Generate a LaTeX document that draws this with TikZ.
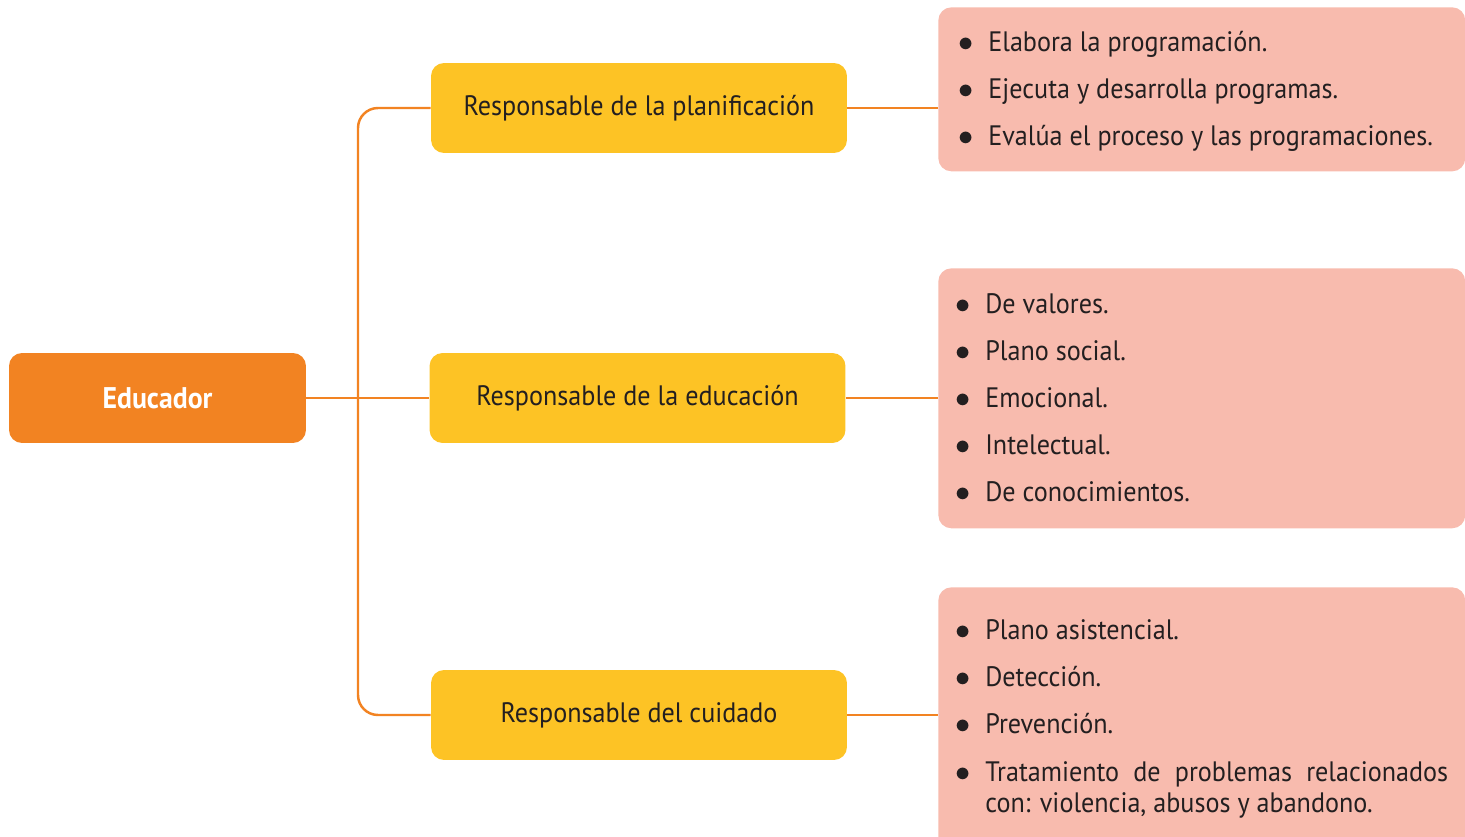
\documentclass[tikz,border=0pt]{standalone}
\usepackage{fontspec}
\setmainfont{PT Sans}[FakeStretch=0.93]
\definecolor{naranja}{HTML}{F28322}
\definecolor{amarillo}{HTML}{FDC325}
\definecolor{rosa}{HTML}{F8BBAE}
\definecolor{tinta}{HTML}{231F20}
\tikzset{
	caja/.style={inner sep=0pt, rounded corners=0.26cm, font=\fontsize{16}{19}\selectfont},
	raiz/.style={caja, fill=naranja, text=white, minimum width=5.94cm, minimum height=1.8cm, font=\bfseries\fontsize{17}{19}\selectfont},
	rama/.style={caja, fill=amarillo, text=tinta, minimum width=8.32cm, minimum height=1.8cm},
	hoja/.style={caja, fill=rosa, anchor=north west, minimum width=10.54cm},
	item/.style={anchor=base west, inner sep=0pt, text=tinta, font=\fontsize{16}{18.2}\selectfont},
	linea/.style={draw=naranja, line width=1.4pt}
}
\newcommand{\vineta}{\llap{$\bullet$\hspace{0.3cm}}}
\begin{document}
\begin{tikzpicture}[x=0.02cm,y=-0.02cm]
	\useasboundingbox (0,0) rectangle (1465,837);
	\node[raiz] (edu) at (157.5,398) {Educador};
	\node[rama] (plan) at (639,108) {Responsable de la planificación};
	\node[rama] (educ) at (637.5,398) {Responsable de la educación};
	\node[rama] (cuid) at (639,715) {Responsable del cuidado};
	\node[hoja, minimum height=3.28cm] (h1) at (938,7) {};
	\node[hoja, minimum height=5.2cm] (h2) at (938,268) {};
	\node[hoja, minimum height=5.6cm] (h3) at (938,587) {};
	\coordinate (tronco) at (358,398);
	\draw[linea, rounded corners=0.4cm] (plan.west) -| (tronco) |- (cuid.west);
	\draw[linea] (edu.east) -- (educ.west);
	\draw[linea] (plan.east) -- (plan.east -| h1.west);
	\draw[linea] (educ.east) -- (educ.east -| h2.west);
	\draw[linea] (cuid.east) -- (cuid.east -| h3.west);
	\foreach \y/\t [count=\i] in {52/Elabora la programación., 99/Ejecuta y desarrolla programas., 146/Evalúa el proceso y las programaciones.}
		\node[item] (a\i) at (988,\y) {\vineta\t};
	\foreach \y/\t [count=\i] in {314/De valores., 361/Plano social., 408/Emocional., 455/Intelectual., 502/De conocimientos.}
		\node[item] (b\i) at (985,\y) {\vineta\t};
	\foreach \y/\t [count=\i] in {640/Plano asistencial., 687/Detección., 734/Prevención.}
		\node[item] (c\i) at (985,\y) {\vineta\t};
	\node[item, align=left] (c4) at (985,813) {\vineta\makebox[9.26cm][s]{Tratamiento de problemas relacionados}\\con: violencia, abusos y abandono.};
\end{tikzpicture}
\end{document}
